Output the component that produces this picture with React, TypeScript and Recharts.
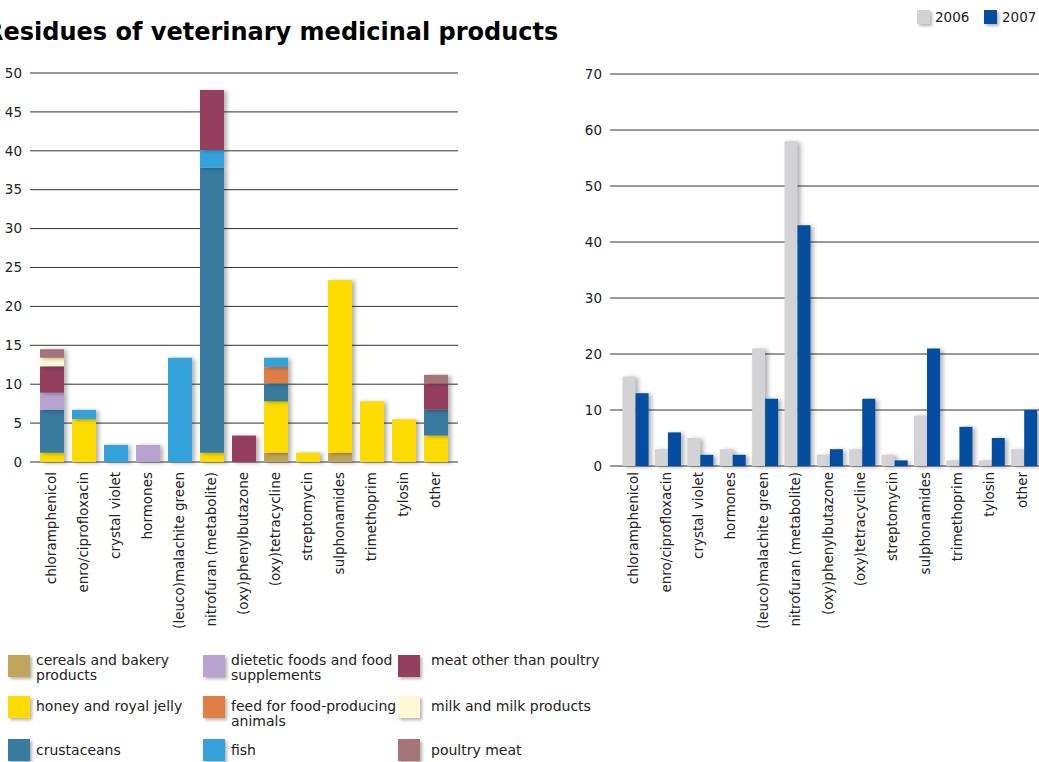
import React from 'react';
import { BarChart, Bar, XAxis, YAxis, CartesianGrid } from 'recharts';

const categories = [
  'chloramphenicol',
  'enro/ciprofloxacin',
  'crystal violet',
  'hormones',
  '(leuco)malachite green',
  'nitrofuran (metabolite)',
  '(oxy)phenylbutazone',
  '(oxy)tetracycline',
  'streptomycin',
  'sulphonamides',
  'trimethoprim',
  'tylosin',
  'other',
];

// left chart: stacked by food category (bottom to top)
const cereals = [0, 0, 0, 0, 0, 0, 0, 1.2, 0, 1.2, 0, 0, 0];
const honey = [1.2, 5.5, 0, 0, 0, 1.2, 0, 6.6, 1.2, 22.2, 7.8, 5.5, 3.4];
const crustaceans = [5.5, 0, 0, 0, 0, 36.6, 0, 2.3, 0, 0, 0, 0, 3.3];
const dietetic = [2.2, 0, 0, 2.2, 0, 0, 0, 0, 0, 0, 0, 0, 0];
const feed = [0, 0, 0, 0, 0, 0, 0, 2.1, 0, 0, 0, 0, 0];
const fish = [0, 1.2, 2.2, 0, 13.4, 2.3, 0, 1.2, 0, 0, 0, 0, 0];
const meat = [3.4, 0, 0, 0, 0, 7.7, 3.4, 0, 0, 0, 0, 0, 3.4];
const milk = [1.1, 0, 0, 0, 0, 0, 0, 0, 0, 0, 0, 0, 0];
const poultry = [1.1, 0, 0, 0, 0, 0, 0, 0, 0, 0, 0, 0, 1.1];

const leftTicks = [0, 5, 10, 15, 20, 25, 30, 35, 40, 45, 50];

// right chart: by year
const y2006 = [16, 3, 5, 3, 21, 58, 2, 3, 2, 9, 1, 1, 3];
const y2007 = [13, 6, 2, 2, 12, 43, 3, 12, 1, 21, 7, 5, 10];
const rightTicks = [0, 10, 20, 30, 40, 50, 60, 70];

const foodSeries = [
  { key: 'cereals', name: 'cereals and bakery products', color: '#BFA55A', values: cereals },
  { key: 'honey', name: 'honey and royal jelly', color: '#FFDC00', values: honey },
  { key: 'crustaceans', name: 'crustaceans', color: '#377B9F', values: crustaceans },
  { key: 'dietetic', name: 'dietetic foods and food supplements', color: '#B8A3D0', values: dietetic },
  { key: 'feed', name: 'feed for food-producing animals', color: '#E07F45', values: feed },
  { key: 'fish', name: 'fish', color: '#33A2DA', values: fish },
  { key: 'meat', name: 'meat other than poultry', color: '#933F5D', values: meat },
  { key: 'milk', name: 'milk and milk products', color: '#FFF9D5', values: milk },
  { key: 'poultry', name: 'poultry meat', color: '#A47576', values: poultry },
];

const yearSeries = [
  { key: 'y2006', name: '2006', color: '#D3D3D5', values: y2006 },
  { key: 'y2007', name: '2007', color: '#034EA0', values: y2007 },
];

const leftData = categories.map((name, i) => {
  const row: any = { name };
  foodSeries.forEach((s) => (row[s.key] = s.values[i]));
  return row;
});

const rightData = categories.map((name, i) => {
  const row: any = { name };
  yearSeries.forEach((s) => (row[s.key] = s.values[i]));
  return row;
});

const FONT = '"DejaVu Sans", Verdana, sans-serif';

const makeTick = (dx: number) => (props: any) => {
  const { x, y, payload } = props;
  return (
    <text
      x={0}
      y={0}
      transform={`translate(${x},${y}) rotate(-90)`}
      textAnchor="end"
      dy={dx}
      fontSize={13.5}
      fill="#222"
      fontFamily={FONT}
    >
      {payload.value}
    </text>
  );
};

const legendCols = [
  { sq: 8, tx: 36, w: 160 },
  { sq: 203, tx: 231, w: 178 },
  { sq: 398, tx: 431, w: 200 },
];
const legendRows = [
  { text: 653, sq: 655 },
  { text: 699, sq: 696 },
  { text: 743, sq: 739 },
];

export default function App() {
  return (
    <div
      style={{
        position: 'absolute',
        left: 0,
        top: 0,
        width: 1039,
        height: 762,
        overflow: 'hidden',
        background: '#fff',
        fontFamily: FONT,
        color: '#222',
      }}
    >
      <style>{`.shadowed .recharts-bar-rectangle path { filter: drop-shadow(3px 1px 2px rgba(0,0,0,0.3)); }`}</style>
      <div
        style={{
          position: 'absolute',
          left: -15,
          top: 20,
          fontSize: 24,
          lineHeight: '24px',
          fontWeight: 'bold',
          color: '#000',
          whiteSpace: 'nowrap',
        }}
      >
        Residues of veterinary medicinal products
      </div>

      <div className="shadowed" style={{ position: 'absolute', left: 0, top: 0 }}>
        <BarChart
          width={470}
          height={640}
          data={leftData}
          margin={{ top: 73, right: 12, bottom: 0, left: 0 }}
          barCategoryGap="12.5%"
        >
          <CartesianGrid vertical={false} stroke="#333" />
          <XAxis
            dataKey="name"
            interval={0}
            axisLine={false}
            tickLine={false}
            tickSize={0}
            tickMargin={10}
            height={178}
            padding={{ left: 6, right: 6 }}
            tick={makeTick(4)}
          />
          <YAxis
            width={30}
            domain={[0, 50]}
            ticks={leftTicks}
            axisLine={false}
            tickLine={false}
            tickSize={0}
            tickMargin={8}
            tick={{ fontSize: 13.5, fill: '#222', fontFamily: FONT }}
          />
          {foodSeries.map((s) => (
            <Bar key={s.key} dataKey={s.key} name={s.name} stackId="a" fill={s.color} isAnimationActive={false} />
          ))}
        </BarChart>
      </div>

      <div className="shadowed" style={{ position: 'absolute', left: 560, top: 0 }}>
        <BarChart
          width={480}
          height={640}
          data={rightData}
          margin={{ top: 74, right: 0, bottom: 0, left: 0 }}
          barCategoryGap="11%"
          barGap={0}
        >
          <CartesianGrid vertical={false} stroke="#333" />
          <XAxis
            dataKey="name"
            interval={0}
            axisLine={false}
            tickLine={false}
            tickSize={0}
            tickMargin={6}
            height={174}
            padding={{ left: 9, right: 0 }}
            tick={makeTick(3)}
          />
          <YAxis
            width={50}
            domain={[0, 70]}
            ticks={rightTicks}
            axisLine={false}
            tickLine={false}
            tickSize={0}
            tickMargin={8}
            tick={{ fontSize: 13.5, fill: '#222', fontFamily: FONT }}
          />
          {yearSeries.map((s) => (
            <Bar key={s.key} dataKey={s.key} name={s.name} fill={s.color} isAnimationActive={false} />
          ))}
        </BarChart>
      </div>

      {/* year legend */}
      {yearSeries.map((s, i) => (
        <div key={s.key} style={{ position: 'absolute', left: 917 + i * 67, top: 10, display: 'flex', alignItems: 'center' }}>
          <div style={{ width: 13, height: 14, background: s.color, boxShadow: '2px 2px 3px rgba(0,0,0,0.3)' }} />
          <div style={{ marginLeft: 5, fontSize: 13.5, lineHeight: '14px', whiteSpace: 'nowrap' }}>{s.name}</div>
        </div>
      ))}

      {/* food legend */}
      {foodSeries.map((s, k) => {
        const col = legendCols[Math.floor(k / 3)];
        const row = legendRows[k % 3];
        return (
          <React.Fragment key={s.key}>
            <div
              style={{
                position: 'absolute',
                left: col.sq,
                top: row.sq,
                width: 22,
                height: 22,
                background: s.color,
                boxShadow: '2px 2px 3px rgba(0,0,0,0.3)',
              }}
            />
            <div
              style={{
                position: 'absolute',
                left: col.tx,
                top: row.text,
                width: col.w,
                fontSize: 14,
                lineHeight: '15px',
              }}
            >
              {s.name}
            </div>
          </React.Fragment>
        );
      })}
    </div>
  );
}
